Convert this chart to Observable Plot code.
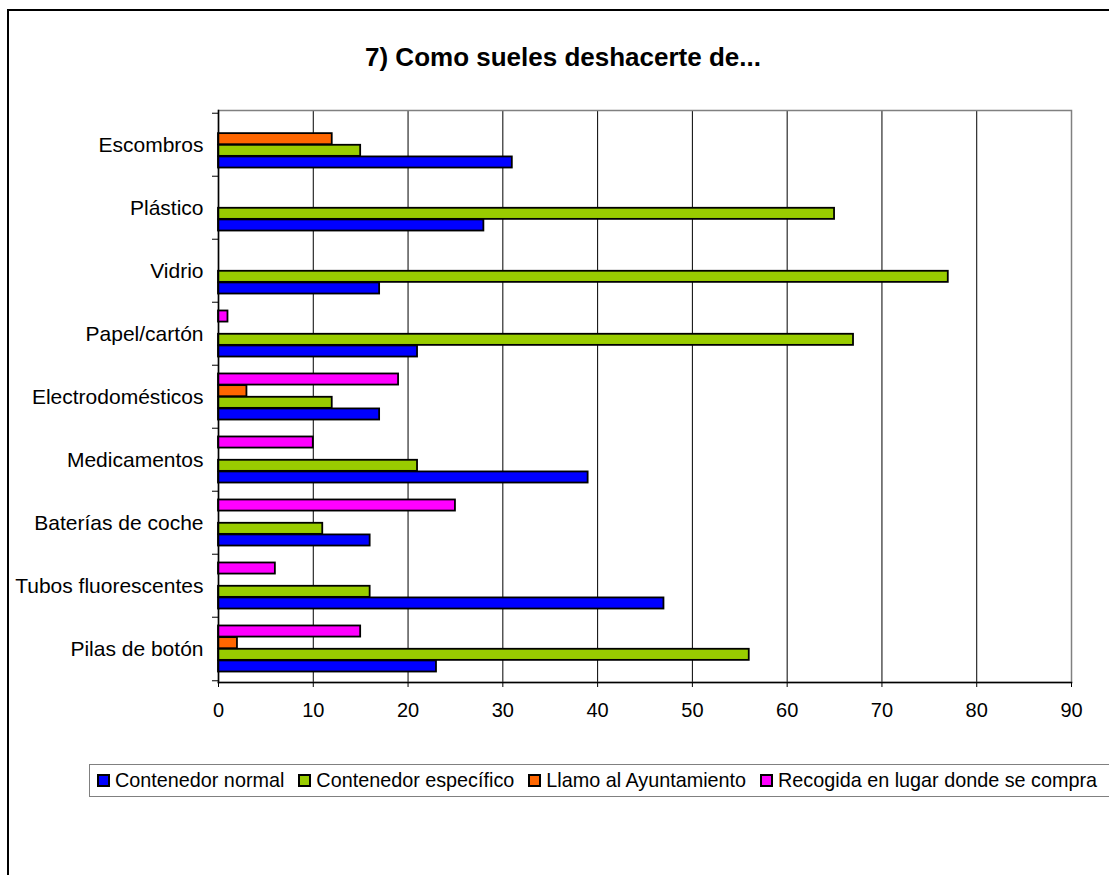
<!DOCTYPE html>
<html>
<head>
<meta charset="utf-8">
<script src="https://cdn.jsdelivr.net/npm/d3@7"></script>
<script src="https://cdn.jsdelivr.net/npm/@observablehq/plot@0.6"></script>
<style>
  html, body { margin: 0; padding: 0; background: #fff; overflow: hidden; }
  #page { position: relative; width: 1109px; height: 875px; overflow: hidden; font-family: "Liberation Sans", Arial, sans-serif; }
  #outer { position: absolute; left: 7px; top: 9px; width: 1300px; height: 1000px; border: 2px solid #000; box-sizing: border-box; }
  #title { position: absolute; left: 0; width: 1126px; top: 41px; line-height: 32px; text-align: center; font-weight: bold; font-size: 26px; color: #000; }
  #chart { position: absolute; left: 0; top: 0; }
  #legend { position: absolute; left: 89px; top: 764px; width: 1100px; height: 33px; border: 1px solid #808080; box-sizing: border-box; display: flex; align-items: center; padding-left: 7px; font-size: 19.8px; color: #000; white-space: nowrap; }
  .item { display: flex; align-items: center; margin-right: 14px; }
  .sw { width: 13px; height: 13px; border: 2px solid #000; box-sizing: border-box; margin-right: 5px; }
</style>
</head>
<body>
<div id="page">
  <div id="outer"></div>
  <div id="title">7) Como sueles deshacerte de...</div>
  <div id="chart"></div>
  <div id="legend"></div>
</div>
<script>
// ---- data ----
const categories = ["Escombros", "Plástico", "Vidrio", "Papel/cartón", "Electrodomésticos", "Medicamentos", "Baterías de coche", "Tubos fluorescentes", "Pilas de botón"];
const series = ["Contenedor normal", "Contenedor específico", "Llamo al Ayuntamiento", "Recogida en lugar donde se compra"];
const seriesColors = ["#0000FF", "#99CC00", "#FF6600", "#FF00FF"];
const contenedorNormal     = [31, 28, 17, 21, 17, 39, 16, 47, 23];
const contenedorEspecifico = [15, 65, 77, 67, 12, 21, 11, 16, 56];
const llamoAyuntamiento    = [12,  0,  0,  0,  3,  0,  0,  0,  2];
const recogidaCompra       = [ 0,  0,  0,  1, 19, 10, 25,  6, 15];
const xTicks = [0, 10, 20, 30, 40, 50, 60, 70, 80, 90];

const seriesValues = [contenedorNormal, contenedorEspecifico, llamoAyuntamiento, recogidaCompra];

// ---- layout ----
const W = 1109, H = 760;
const mL = 218, mR = 38, mT = 110, mB = 78;
const bandH = (H - mT - mB) / categories.length;
const barH = 11.65;
const outerPad = (bandH - series.length * barH) / 2;

const rows = [];
series.forEach((s, j) => {
  categories.forEach((c, i) => {
    const v = seriesValues[j][i];
    if (v > 0) rows.push({category: c, series: s, value: v});
  });
});

const barMarks = series.map((s, j) => Plot.barX(rows.filter(d => d.series === s), {
  x: "value",
  y: "category",
  fill: seriesColors[j],
  stroke: "#000",
  strokeWidth: 1.8,
  insetTop: outerPad + (series.length - 1 - j) * barH,
  insetBottom: outerPad + j * barH
}));

const chart = Plot.plot({
  width: W,
  height: H,
  marginLeft: mL,
  marginRight: mR,
  marginTop: mT,
  marginBottom: mB,
  style: {fontFamily: "'Liberation Sans', Arial, sans-serif", fontSize: "20px", color: "#000", background: "transparent"},
  x: {domain: [0, 90], ticks: xTicks},
  y: {domain: categories, padding: 0},
  marks: [
    Plot.gridX(xTicks.slice(1, -1), {stroke: "#000", strokeOpacity: 1, strokeWidth: 1}),
    Plot.frame({stroke: "#808080", strokeWidth: 1.5}),
    ...barMarks,
    Plot.frame({anchor: "left", stroke: "#000", strokeWidth: 1.5}),
    Plot.frame({anchor: "bottom", stroke: "#000", strokeWidth: 1.5}),
    Plot.axisX({ticks: xTicks, tickSize: 5, tickPadding: 15, fontSize: 20, label: null, stroke: "#000"}),
    Plot.axisY({tickSize: 0, tickPadding: 15, fontSize: 21, label: null}),
    Plot.axisY({ticks: categories, tickSize: 6, tickFormat: () => "", label: null, dy: -bandH / 2}),
    Plot.axisY({ticks: categories.slice(-1), tickSize: 6, tickFormat: () => "", label: null, dy: bandH / 2})
  ]
});
document.getElementById("chart").appendChild(chart);

// ---- legend ----
const legend = document.getElementById("legend");
series.forEach((s, j) => {
  const item = document.createElement("div");
  item.className = "item";
  const sw = document.createElement("span");
  sw.className = "sw";
  sw.style.background = seriesColors[j];
  const tx = document.createElement("span");
  tx.textContent = s;
  item.appendChild(sw);
  item.appendChild(tx);
  legend.appendChild(item);
});
</script>
</body>
</html>
